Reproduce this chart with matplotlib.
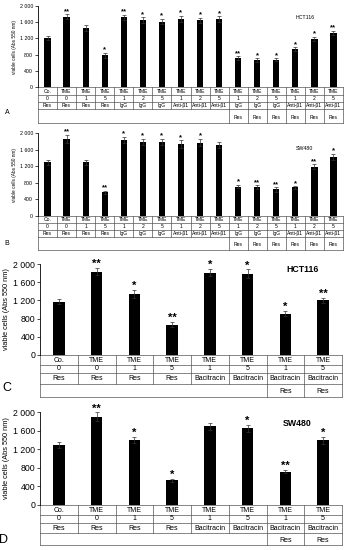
import matplotlib
matplotlib.use('Agg')
import matplotlib.pyplot as plt
import matplotlib.transforms as mtransforms

plt.rcParams['font.family'] = ['Liberation Sans', 'DejaVu Sans']

# Panel A - HCT116, IgG / anti-beta1
a_vals = [1200, 1730, 1450, 790, 1720, 1650, 1610, 1670, 1640, 1670, 720, 670, 680, 940, 1190, 1330]
a_errs = [50, 60, 70, 60, 60, 70, 70, 80, 70, 70, 40, 40, 40, 40, 50, 60]
a_stars = ['', '**', '', '*', '**', '*', '*', '*', '*', '*', '**', '*', '*', '*', '*', '**']

# Panel B - SW480, IgG / anti-beta1
b_vals = [1300, 1860, 1300, 570, 1830, 1790, 1780, 1730, 1770, 1710, 710, 700, 640, 690, 1190, 1430]
b_errs = [60, 100, 60, 40, 80, 70, 80, 90, 90, 80, 40, 40, 50, 30, 60, 70]
b_stars = ['', '**', '', '**', '*', '*', '*', '*', '*', '', '*', '**', '**', '*', '**', '*']

ab_row1 = ['Co.'] + ['TME'] * 15
ab_row2 = ['0', '0', '1', '5', '1', '2', '5', '1', '2', '5', '1', '2', '5', '1', '2', '5']
ab_row3 = ['Res', 'Res', 'Res', 'Res', 'IgG', 'IgG', 'IgG', 'Anti-β1', 'Anti-β1', 'Anti-β1',
           'IgG', 'IgG', 'IgG', 'Anti-β1', 'Anti-β1', 'Anti-β1']
ab_row4 = ['Res'] * 6

# Panel C - HCT116, bacitracin
c_vals = [1170, 1830, 1340, 670, 1810, 1790, 910, 1200]
c_errs = [50, 80, 80, 50, 80, 90, 50, 60]
c_stars = ['', '**', '*', '**', '*', '*', '*', '**']

# Panel D - SW480, bacitracin
d_vals = [1290, 1900, 1400, 530, 1690, 1650, 720, 1390]
d_errs = [60, 90, 70, 30, 80, 80, 40, 70]
d_stars = ['', '**', '*', '*', '', '*', '**', '*']

cd_row1 = ['Co.'] + ['TME'] * 7
cd_row2 = ['0', '0', '1', '5', '1', '5', '1', '5']
cd_row3 = ['Res', 'Res', 'Res', 'Res'] + ['Bacitracin'] * 4
cd_row4 = ['Res'] * 2


def panel(ax, vals, errs, stars, rows, last_row, row_px, ax_px, title, tpos, letter, lpos,
          fs, tick_fs, lab_fs, letter_fs, width, star_fs, tbold):
    n = len(vals)
    x = list(range(n))
    ax.bar(x, vals, width=width, color='black', zorder=2)
    ax.errorbar(x, vals, yerr=errs, fmt='none', ecolor='#333333', elinewidth=0.5,
                capsize=1.3, capthick=0.5, zorder=3)
    for xi, v, e, s in zip(x, vals, errs, stars):
        if s:
            ax.text(xi, v + e - 20, s, ha='center', va='bottom', fontsize=star_fs,
                    fontweight='bold')
    ax.set_xlim(-0.5, n - 0.5)
    ax.set_ylim(0, 2000)
    ax.set_yticks([0, 400, 800, 1200, 1600, 2000])
    ax.set_yticklabels(['0', '400', '800', '1 200', '1 600', '2 000'], fontsize=tick_fs)
    ax.tick_params(axis='y', length=2, width=0.5, pad=1.5)
    ax.set_xticks([])
    for sp in ['top', 'right', 'bottom']:
        ax.spines[sp].set_visible(False)
    ax.spines['left'].set_linewidth(0.6)
    ax.set_ylabel('viable cells (Abs 550 nm)', fontsize=lab_fs, labelpad=2)
    ax.text(tpos[0], tpos[1], title, transform=ax.transAxes, fontsize=tick_fs,
            ha='center', va='center', fontweight='bold' if tbold else 'normal')

    # table under the axis
    trans = mtransforms.blended_transform_factory(ax.transData, ax.transAxes)
    hs = [p / ax_px for p in row_px]
    ys = [0]
    for h in hs:
        ys.append(ys[-1] - h)
    lc = '#555555'
    kw = dict(transform=trans, clip_on=False, color=lc, lw=0.5)
    for y in ys:
        ax.plot([-0.5, n - 0.5], [y, y], **kw)
    for i in range(n + 1):
        ax.plot([i - 0.5, i - 0.5], [ys[0], ys[3]], **kw)
    k = len(last_row)
    for i in [0] + list(range(n - k, n + 1)):
        ax.plot([i - 0.5, i - 0.5], [ys[3], ys[4]], **kw)
    for r, row in enumerate(rows):
        yc = (ys[r] + ys[r + 1]) / 2
        for xi, t in zip(x, row):
            ax.text(xi, yc, t, transform=trans, ha='center', va='center', fontsize=fs,
                    clip_on=False)
    yc = ys[4] + hs[3] * 0.4
    for xi, t in zip(range(n - k, n), last_row):
        ax.text(xi, yc, t, transform=trans, ha='center', va='center', fontsize=fs,
                clip_on=False)
    ax.figure.text(lpos[0] / 347, 1 - lpos[1] / 550, letter, fontsize=letter_fs,
                   ha='center', va='center')


fig = plt.figure(figsize=(3.47, 5.50), dpi=100)


def px_axes(left, top, right, bottom):
    return fig.add_axes([left / 347, 1 - bottom / 550, (right - left) / 347, (bottom - top) / 550])


axA = px_axes(38, 5.7, 343, 87.3)
panel(axA, a_vals, a_errs, a_stars, [ab_row1, ab_row2, ab_row3], ab_row4,
      [8, 7, 7, 14], 81.6, 'HCT116', (0.875, 0.86), 'A', (7, 112),
      3.6, 3.8, 3.4, 5, 0.33, 5.5, False)

axB = px_axes(38, 133, 343, 216)
panel(axB, b_vals, b_errs, b_stars, [ab_row1, ab_row2, ab_row3], ab_row4,
      [7, 7, 7, 13], 83, 'SW480', (0.875, 0.81), 'B', (7, 243),
      3.6, 3.8, 3.4, 5, 0.33, 5.5, False)

axC = px_axes(40, 264, 342, 355)
panel(axC, c_vals, c_errs, c_stars, [cd_row1, cd_row2, cd_row3], cd_row4,
      [10, 8, 11, 13], 91, 'HCT116', (0.87, 0.945), 'C', (7, 388),
      5, 6.3, 5.3, 9, 0.3, 8, True)

axD = px_axes(40, 412, 342, 505)
panel(axD, d_vals, d_errs, d_stars, [cd_row1, cd_row2, cd_row3], cd_row4,
      [10, 8, 10, 12], 93, 'SW480', (0.85, 0.88), 'D', (4, 540),
      5, 6.3, 5.3, 9, 0.3, 8, True)

fig.savefig('out.png', dpi=100)
